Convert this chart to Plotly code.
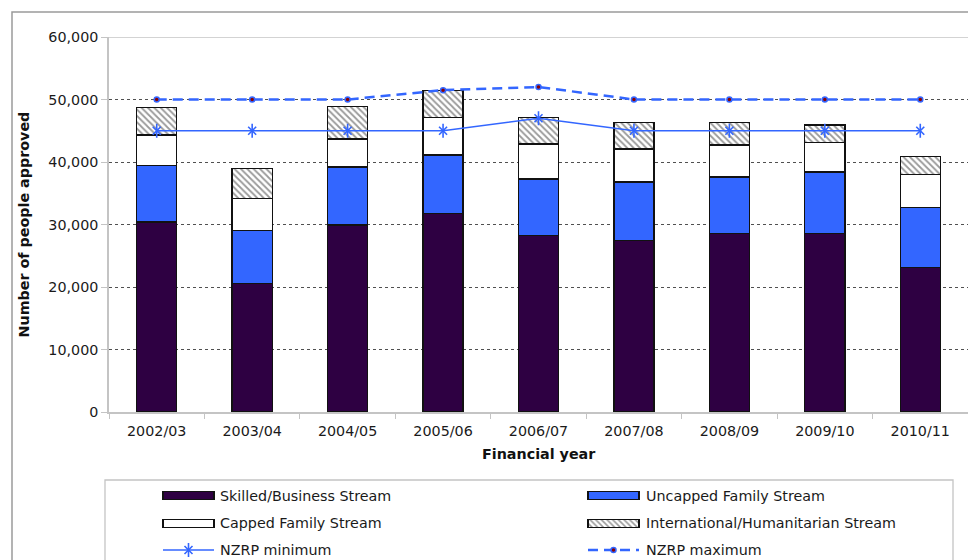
import plotly.graph_objects as go

# ---------------- data ----------------
years = ["2002/03", "2003/04", "2004/05", "2005/06", "2006/07",
         "2007/08", "2008/09", "2009/10", "2010/11"]
skilled = [30400, 20600, 29900, 31800, 28200, 27400, 28600, 28600, 23100]
uncapped = [9000, 8400, 9300, 9300, 9100, 9400, 9000, 9800, 9600]
capped = [4900, 5200, 4500, 6000, 5600, 5300, 5100, 4700, 5300]
humanitarian = [4400, 4800, 5200, 4300, 4200, 4200, 3600, 2800, 2900]
nzrp_min = [45000, 45000, 45000, 45000, 47000, 45000, 45000, 45000, 45000]
nzrp_max = [50000, 50000, 50000, 51500, 52000, 50000, 50000, 50000, 50000]

y_ticks = [0, 10000, 20000, 30000, 40000, 50000, 60000]
y_ticktext = ["0", "10,000", "20,000", "30,000", "40,000", "50,000", "60,000"]

names = ["Skilled/Business Stream", "Uncapped Family Stream",
         "Capped Family Stream", "International/Humanitarian Stream",
         "NZRP minimum", "NZRP maximum"]

# ---------------- styles ----------------
FONT = "DejaVu Sans"
FS = 14.3
C_SKILLED = "#2E0042"
C_UNCAPPED = "#3366FF"
C_LINE = "#3366FF"
EDGE = dict(color="#111111", width=1.3)
HATCH = dict(shape="\\", fgcolor="#333333", bgcolor="white", size=4.5, solidity=0.4)
BAR_W = 0.42
STAR_X = dict(symbol="x-thin-open", size=8, color=C_LINE,
              line=dict(color=C_LINE, width=1.6))
STAR_V = dict(symbol="line-ns-open", size=10, color=C_LINE,
              line=dict(color=C_LINE, width=1.6))
DOT = dict(symbol="circle", size=5, color="#8B0000",
           line=dict(color=C_LINE, width=1.5))

fig = go.Figure()

fig.add_bar(x=years, y=skilled, name=names[0], width=BAR_W,
            marker=dict(color=C_SKILLED, line=EDGE))
fig.add_bar(x=years, y=uncapped, name=names[1], width=BAR_W,
            marker=dict(color=C_UNCAPPED, line=EDGE))
fig.add_bar(x=years, y=capped, name=names[2], width=BAR_W,
            marker=dict(color="white", line=EDGE))
fig.add_bar(x=years, y=humanitarian, name=names[3], width=BAR_W,
            marker=dict(color="white", line=EDGE, pattern=HATCH))

fig.add_scatter(x=years, y=nzrp_min, name=names[4], mode="lines+markers",
                line=dict(color=C_LINE, width=1.4), marker=STAR_X)
fig.add_scatter(x=years, y=nzrp_min, mode="markers", showlegend=False,
                hoverinfo="skip", marker=STAR_V)
fig.add_scatter(x=years, y=nzrp_max, name=names[5], mode="lines+markers",
                line=dict(color=C_LINE, width=2.5, dash="10px,6px"), marker=DOT)

for tr in fig.data:
    tr.showlegend = False

# ---------------- manual legend (pixel-like coordinates on hidden axes) ----------------
rows = [495.7, 523.3, 550.0]
cols_sym = [(163, 214), (588, 639)]
cols_txt = [218, 644]
legend_slots = [(0, 0), (1, 0), (0, 1), (1, 1), (0, 2), (1, 2)]
sym_styles = [
    dict(kind="bar", marker=dict(color=C_SKILLED, line=EDGE)),
    dict(kind="bar", marker=dict(color=C_UNCAPPED, line=EDGE)),
    dict(kind="bar", marker=dict(color="white", line=EDGE)),
    dict(kind="bar", marker=dict(color="white", line=EDGE,
                                 pattern=dict(shape="\\", fgcolor="#333333",
                                              bgcolor="white", size=4, solidity=0.4))),
    dict(kind="min"),
    dict(kind="max"),
]
annotations = []
for name, (ci, ri), st in zip(names, legend_slots, sym_styles):
    x0, x1 = cols_sym[ci]
    yy = rows[ri]
    xm = (x0 + x1) / 2
    if st["kind"] == "bar":
        fig.add_bar(x=[x1 - x0], y=[yy], base=[x0], orientation="h", width=8,
                    marker=st["marker"], xaxis="x2", yaxis="y2",
                    showlegend=False, hoverinfo="skip")
    elif st["kind"] == "min":
        fig.add_scatter(x=[x0, x1], y=[yy, yy], mode="lines", xaxis="x2", yaxis="y2",
                        line=dict(color=C_LINE, width=1.4), showlegend=False,
                        hoverinfo="skip")
        fig.add_scatter(x=[xm], y=[yy], mode="markers", xaxis="x2", yaxis="y2",
                        showlegend=False, hoverinfo="skip", marker=STAR_X)
        fig.add_scatter(x=[xm], y=[yy], mode="markers", xaxis="x2", yaxis="y2",
                        showlegend=False, hoverinfo="skip", marker=STAR_V)
    else:
        fig.add_scatter(x=[x0, x1], y=[yy, yy], mode="lines", xaxis="x2", yaxis="y2",
                        line=dict(color=C_LINE, width=2.5, dash="10px,6px"),
                        showlegend=False, hoverinfo="skip")
        fig.add_scatter(x=[xm], y=[yy], mode="markers", xaxis="x2", yaxis="y2",
                        showlegend=False, hoverinfo="skip", marker=DOT)
    annotations.append(dict(x=cols_txt[ci], y=yy, xref="x2", yref="y2", text=name,
                            showarrow=False, xanchor="left", yanchor="middle",
                            font=dict(family=FONT, size=FS, color="#1a1a1a")))

# axis titles
annotations.append(dict(x=-0.0978, y=0.6415, xref="paper", yref="paper",
                        text="<b>Number of people approved</b>", textangle=-90,
                        showarrow=False, xanchor="center", yanchor="middle",
                        font=dict(family=FONT, size=FS, color="#111111")))
annotations.append(dict(x=0.5, y=0.2027, xref="paper", yref="paper",
                        text="<b>Financial year</b>",
                        showarrow=False, xanchor="center", yanchor="middle",
                        font=dict(family=FONT, size=FS, color="#111111")))

LIGHT = "#c4c4c4"
shapes = [
    # top border of plot area at 60,000
    dict(type="line", xref="paper", yref="y", x0=0, x1=1, y0=60000, y1=60000,
         line=dict(color=LIGHT, width=1.5), layer="above"),
    # legend box
    dict(type="rect", xref="paper", yref="paper", x0=-0.00466, x1=0.98254,
         y0=-0.05, y1=0.15296, line=dict(color=LIGHT, width=1.3)),
    # outer chart border
    dict(type="rect", xref="paper", yref="paper", x0=-0.11292, x1=1.05,
         y0=-0.05, y1=1.0478, line=dict(color="#9a9a9a", width=1.5)),
]

fig.update_layout(
    width=968, height=560, autosize=False,
    margin=dict(l=109, r=0, t=37, b=0, pad=0, autoexpand=False),
    barmode="stack",
    plot_bgcolor="white", paper_bgcolor="white",
    font=dict(family=FONT, size=FS, color="#1a1a1a"),
    showlegend=False,
    annotations=annotations,
    shapes=shapes,
    xaxis=dict(type="category", range=[-0.5, 8.5], domain=[0, 1], anchor="y",
               showline=True, linecolor=LIGHT, linewidth=1.5,
               ticks="outside", tickson="boundaries", ticklen=5,
               tickcolor=LIGHT, tickwidth=1.2, showgrid=False, automargin=False,
               ticklabelstandoff=5,
               tickfont=dict(family=FONT, size=FS, color="#1a1a1a")),
    yaxis=dict(range=[0, 60000], domain=[0.28298, 1], anchor="x",
               tickvals=y_ticks, ticktext=y_ticktext,
               showline=True, linecolor=LIGHT, linewidth=1.5,
               ticks="outside", ticklen=6, tickcolor=LIGHT, tickwidth=1.2,
               showgrid=True, gridcolor="#505050", gridwidth=1, griddash="3px,3px",
               zeroline=False, automargin=False,
               tickfont=dict(family=FONT, size=FS, color="#1a1a1a")),
    xaxis2=dict(domain=[0, 1], range=[109, 968], anchor="y2", visible=False,
                fixedrange=True, automargin=False),
    yaxis2=dict(domain=[0, 0.28298], range=[560, 412], anchor="x2", visible=False,
                fixedrange=True, automargin=False),
)

fig.write_html(
    "out.html",
    config={"displayModeBar": False},
    post_script="document.body.style.margin='0';document.body.style.overflow='hidden';",
)
